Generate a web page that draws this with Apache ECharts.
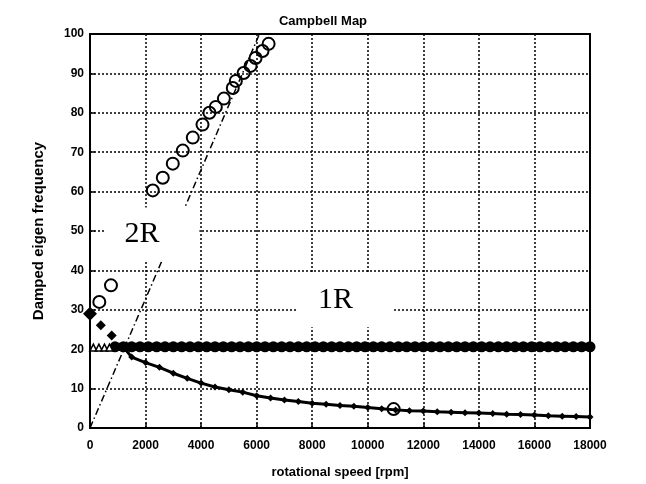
<!DOCTYPE html>
<html>
<head>
<meta charset="utf-8">
<script src="https://cdn.jsdelivr.net/npm/echarts@6/dist/echarts.min.js"></script>
<style>
html, body { margin: 0; background: #fff; }
#chart { width: 646px; height: 484px; }
</style>
</head>
<body>
<div id="chart"></div>
<script>
// open circles: low points, upper branch, one point on the lower curve
const circleRpm = [335, 755, 2260, 2620, 2980, 3340, 3700, 4050, 4300, 4530, 4820, 5140, 5250, 5530, 5780, 5960, 6210, 6430, 10930];
const circleHz  = [32.0, 36.2, 60.3, 63.5, 67.1, 70.4, 73.7, 77.0, 80.0, 81.5, 83.6, 86.3, 88.1, 90.1, 91.9, 93.9, 95.7, 97.5, 4.8];

// 1R band (filled markers at constant frequency)
const bandRpm = [900, 1200, 1500, 1800, 2100, 2400, 2700, 3000, 3300, 3600, 3900, 4200, 4500, 4800, 5100, 5400,
  5700, 6000, 6300, 6600, 6900, 7200, 7500, 7800, 8100, 8400, 8700, 9000, 9300, 9600, 9900, 10200, 10500,
  10800, 11100, 11400, 11700, 12000, 12300, 12600, 12900, 13200, 13500, 13800, 14100, 14400, 14700, 15000,
  15300, 15600, 15900, 16200, 16500, 16800, 17100, 17400, 17700, 18000];
const bandHz = 20.6;

// small open markers left of the band
const tinyRpm = [120, 320, 520, 700];
const tinyHz  = [20.4, 20.4, 20.4, 20.4];

// filled markers at low speed
const startRpm = [0, 390, 780];
const startHz  = [29.0, 26.1, 23.5];

// lower decreasing branch
const lowRpm = [1200, 1500, 2000, 2500, 3000, 3500, 4000, 4500, 5000, 5500, 6000, 6500, 7000, 7500, 8000, 8500,
  9000, 9500, 10000, 10500, 11000, 11500, 12000, 12500, 13000, 13500, 14000, 14500, 15000, 15500, 16000,
  16500, 17000, 17500, 18000];
const lowHz = [20.6, 18.0, 16.6, 15.4, 13.9, 12.6, 11.4, 10.4, 9.7, 9.1, 8.2, 7.6, 7.1, 6.7, 6.3, 6.0,
  5.7, 5.5, 5.2, 4.9, 4.6, 4.4, 4.3, 4.1, 4.0, 3.9, 3.8, 3.7, 3.5, 3.4, 3.3,
  3.1, 3.0, 2.9, 2.8];

// 2R excitation line
const lineRpm = [0, 6100];
const lineHz  = [0, 100];

const zip = (xs, ys) => xs.map((x, i) => [x, Array.isArray(ys) ? ys[i] : ys]);

const chart = echarts.init(document.getElementById('chart'));
const sans = 'Liberation Sans';

chart.setOption({
  animation: false,
  backgroundColor: '#fff',
  title: {
    text: 'Campbell Map',
    left: 'center',
    top: 15,
    padding: 0,
    textStyle: { fontFamily: sans, fontSize: 13, fontWeight: 'bold', color: '#000' }
  },
  grid: {
    left: 90, right: 56, top: 34, bottom: 56,
    show: true, borderColor: '#000', borderWidth: 2, backgroundColor: '#fff'
  },
  xAxis: {
    type: 'value',
    min: 0, max: 18000, interval: 2000,
    name: 'rotational speed [rpm]',
    nameLocation: 'middle',
    nameGap: 38,
    nameTextStyle: { fontFamily: sans, fontSize: 13, fontWeight: 'bold', color: '#000' },
    axisLine: { show: true, lineStyle: { color: '#000', width: 2 } },
    axisTick: { show: true, inside: true, length: 5, lineStyle: { color: '#000', width: 1.5 } },
    axisLabel: { margin: 12, fontFamily: sans, fontSize: 12, fontWeight: 'bold', color: '#000', formatter: v => String(v) },
    splitLine: { show: true, lineStyle: { color: '#000', width: 1.5, type: [2, 2] } }
  },
  yAxis: {
    type: 'value',
    min: 0, max: 100, interval: 10,
    name: 'Damped eigen frequency',
    nameLocation: 'middle',
    nameGap: 44,
    nameTextStyle: { fontFamily: sans, fontSize: 15, fontWeight: 'bold', color: '#000' },
    axisLine: { show: true, lineStyle: { color: '#000', width: 2 } },
    axisTick: { show: true, inside: true, length: 5, lineStyle: { color: '#000', width: 1.5 } },
    axisLabel: { margin: 6, fontFamily: sans, fontSize: 12, fontWeight: 'bold', color: '#000', formatter: v => String(v) },
    splitLine: { show: true, lineStyle: { color: '#000', width: 1.5, type: [2, 2] } }
  },
  series: [
    {
      name: '2R',
      type: 'line',
      data: zip(lineRpm, lineHz),
      symbol: 'none',
      lineStyle: { color: '#000', width: 1.5, type: [7, 3, 1.5, 3] },
      z: 2
    },
    {
      name: '1R band',
      type: 'line',
      data: zip(bandRpm, bandHz),
      symbol: 'circle',
      symbolSize: 11,
      itemStyle: { color: '#000', opacity: 1 },
      lineStyle: { color: '#000', width: 8 },
      z: 3
    },
    {
      name: 'tiny',
      type: 'scatter',
      data: zip(tinyRpm, tinyHz),
      symbol: 'triangle',
      symbolSize: 7,
      itemStyle: { color: '#fff', borderColor: '#000', borderWidth: 1.5, opacity: 1 },
      z: 3
    },
    {
      name: 'lower',
      type: 'line',
      data: zip(lowRpm, lowHz),
      symbol: 'diamond',
      symbolSize: 7,
      itemStyle: { color: '#000', opacity: 1 },
      lineStyle: { color: '#000', width: 3 },
      z: 4
    },
    {
      name: 'start',
      type: 'scatter',
      data: zip(startRpm, startHz),
      symbol: 'diamond',
      symbolSize: (v, p) => (p.dataIndex === 0 ? 14 : 10),
      itemStyle: { color: '#000', opacity: 1 },
      z: 4
    },
    {
      name: 'circles',
      type: 'scatter',
      data: zip(circleRpm, circleHz),
      symbol: 'circle',
      symbolSize: 12,
      itemStyle: { color: 'rgba(255,255,255,0)', borderColor: '#000', borderWidth: 2, opacity: 1 },
      z: 5
    },
    {
      name: 'labels',
      type: 'scatter',
      data: [
        { value: [2228, 49.1], label: { formatter: '2R', padding: [12, 40, 12, 20] } },
        { value: [9200, 32.4], label: { formatter: '1R', padding: [12, 41, 12, 21] } }
      ],
      symbolSize: 0,
      silent: true,
      itemStyle: { opacity: 1 },
      label: {
        show: true,
        position: 'inside',
        fontFamily: 'Liberation Serif',
        fontSize: 30,
        color: '#000',
        backgroundColor: '#fff',
        lineHeight: 30
      },
      z: 10
    }
  ]
});
</script>
</body>
</html>
